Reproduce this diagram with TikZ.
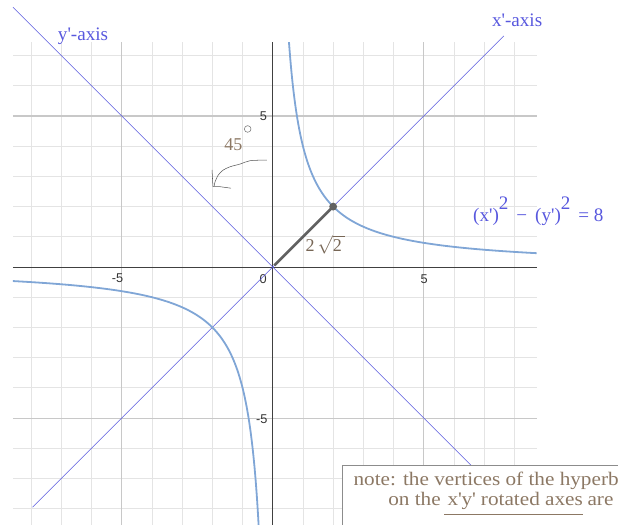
\documentclass[tikz,border=0pt]{standalone}
\usepackage{fontspec}
\setmainfont{Liberation Serif}
\newfontfamily\tickfont{Liberation Sans}
\newfontfamily\notefont{Liberation Serif}[FakeStretch=1.11]
\usetikzlibrary{positioning}

\definecolor{axisblue}{RGB}{88,88,222}
\definecolor{curveblue}{RGB}{128,166,214}
\definecolor{notegray}{RGB}{140,120,100}
\definecolor{gridminor}{RGB}{228,228,228}
\definecolor{gridmajor}{RGB}{200,200,200}

\newcommand{\prm}{\textquotesingle}

\begin{document}
\begin{tikzpicture}[
  minorgrid/.style={draw=gridminor, line width=0.75pt},
  majorgrid/.style={draw=gridmajor, line width=1pt},
  mainaxis/.style={draw=black!75, line width=0.8pt},
  rotaxis/.style={draw=axisblue, line width=0.55pt},
  branch/.style={draw=curveblue, line width=1.7pt},
  ticklabel/.style={font=\tickfont\fontsize{12}{14}\selectfont, text=black!80, inner sep=0pt},
  bluelabel/.style={font=\fontsize{18}{21}\selectfont, text=axisblue, inner sep=0pt},
  notetext/.style={font=\notefont\fontsize{18}{21}\selectfont, text=notegray, inner sep=0pt},
  scribble/.style={draw=black!65, line width=0.5pt, line cap=round, line join=round}
]
\useasboundingbox (-9.03,-8.54) rectangle (11.43,8.84);
\clip (-9.03,-8.54) rectangle (11.43,8.84);

% grid
\foreach \x in {-8,...,8}
  \draw[minorgrid] (\x,-8.7) -- (\x,7.44);
\foreach \y in {-8,...,7}
  \draw[minorgrid] (-8.6,\y) -- (8.74,\y);
\foreach \v in {-5,5} {
  \draw[majorgrid] (\v,-8.7) -- (\v,7.44);
  \draw[majorgrid] (-8.6,\v) -- (8.74,\v);
}
\draw[mainaxis] (-8.6,0) -- (8.74,0);
\draw[mainaxis] (0,-8.7) -- (0,7.44);

% tick labels
\node[ticklabel] (xmfive) at (-5.14,-0.36) {-5};
\node[ticklabel] (zero) at (-0.32,-0.40) {0};
\node[ticklabel] (xfive) at (5.01,-0.40) {5};
\node[ticklabel] (yfive) at (-0.31,5.00) {5};
\node[ticklabel] (ymfive) at (-0.36,-5.04) {-5};

% rotated axes
\coordinate (xpstart) at (-7.95,-7.95);
\coordinate (xpend) at (7.65,7.65);
\coordinate (ypstart) at (-8.6,8.6);
\coordinate (ypend) at (8.6,-8.6);
\draw[rotaxis] (xpstart) -- (xpend);
\draw[rotaxis] (ypstart) -- (ypend);

% hyperbola xy=4
\begin{scope}
  \clip (-8.6,-8.7) rectangle (8.74,7.44);
  \draw[branch] plot[domain=-1.35:1.48, samples=120, smooth]
    ({2*exp(\x)},{2*exp(-\x)});
  \draw[branch] plot[domain=-1.48:1.48, samples=120, smooth]
    ({-2*exp(\x)},{-2*exp(-\x)});
\end{scope}

% vertex distance
\coordinate (origin) at (0.05,0.05);
\coordinate (vertex) at (2,2);
\draw[black!62, line width=2.6pt] (origin) -- (vertex);
\fill[black!62] (vertex) circle (0.13);
\node[text=notegray!85!black, font=\fontsize{17}{20}\selectfont, inner sep=0pt]
  (dist) at (1.74,0.74) {2\,$\sqrt{\mbox{2}\,}$};

% labels
\node[bluelabel] (yplabel) at (-6.28,7.65) {y\prm-axis};
\node[bluelabel] (xplabel) at (8.09,8.18) {x\prm-axis};
\node[bluelabel, anchor=base west] (eqn) at (6.63,1.50)
  {(x\prm)\raisebox{0.62em}{2} \,−\, (y\prm)\raisebox{0.62em}{2} \,= 8};

% angle note
\node[notetext, font=\fontsize{17}{20}\selectfont] (angle) at (-1.30,4.04) {45};
\coordinate (degc) at (-0.83,4.57);
\draw[black!55, line width=0.5pt] (degc) circle (0.11);
\draw[scribble] plot[smooth] coordinates {(-0.20,3.54) (-0.75,3.52) (-1.08,3.41)
  (-1.41,3.32) (-1.64,3.21) (-1.80,3.05) (-1.91,2.82) (-1.94,2.68)};
\draw[scribble] (-2.01,3.21) -- (-1.98,2.66) -- (-1.75,2.66) -- (-1.39,2.61);

% note box
\node[draw=black!45, fill=white, line width=0.6pt, anchor=north west,
  minimum width=12cm, minimum height=4cm, inner sep=0pt] (notebox) at (2.28,-6.56) {};
\node[notetext, anchor=base west] (noteone) at (2.67,-7.22)
  {note: the vertices of the hyperbola};
\node[notetext, anchor=base west] (noteon) at (3.82,-7.88) {on the};
\node[notetext, anchor=base west] (noteaxes) at ([xshift=6pt]noteon.base east)
  {x\prm y\prm\ rotated axes};
\node[notetext, anchor=base west] (noteare) at ([xshift=4pt]noteaxes.base east) {are};
\draw[notegray, line width=0.6pt] ([xshift=-3pt,yshift=-9pt]noteaxes.base west)
  -- ([yshift=-9pt]noteaxes.base east);
\end{tikzpicture}
\end{document}
